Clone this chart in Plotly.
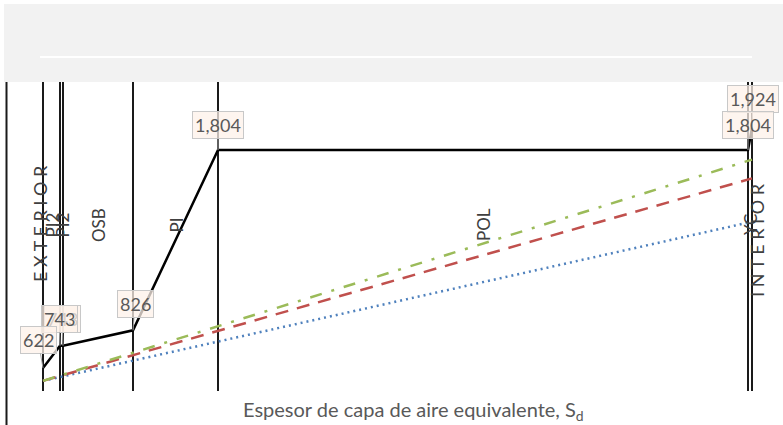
import plotly.graph_objects as go

# Layer boundaries (equivalent air layer thickness, Sd, cumulative)
boundaries = [0.0, 0.17, 0.20, 0.90, 1.75, 7.05, 7.09]
layer_names = ["PI2", "PI2", "OSB", "PI", "POL", "YC"]
# Saturation pressure at each interface
p_sat = [622, 743, 743, 826, 1804, 1804, 1924]
# Vapour pressure lines (exterior -> interior)
vap_x = [0.0, 7.09]
vap_green = [552, 1752]
vap_red = [552, 1650]
vap_blue = [552, 1415]

Y0, Y1 = 497, 2173
X0, X1 = -0.43, 7.40

fig = go.Figure()

for b in boundaries:
    fig.add_trace(go.Scatter(x=[b, b], y=[Y0, Y1], mode="lines",
                             line=dict(color="#1a1a1a", width=2), hoverinfo="skip", showlegend=False))

fig.add_trace(go.Scatter(x=vap_x, y=vap_blue, mode="lines",
                         line=dict(color="#4f81bd", width=2.5, dash="2px,4px"), showlegend=False))
fig.add_trace(go.Scatter(x=vap_x, y=vap_red, mode="lines",
                         line=dict(color="#c0504d", width=2.5, dash="13px,9px"), showlegend=False))
fig.add_trace(go.Scatter(x=vap_x, y=vap_green, mode="lines",
                         line=dict(color="#9bbb59", width=2.5, dash="12px,10px,3px,10px"), showlegend=False))
fig.add_trace(go.Scatter(x=boundaries, y=p_sat, mode="lines",
                         line=dict(color="black", width=2.5), showlegend=False))

FONT = "Lato"
ann = []
offsets = [(-5, -28), (-1, -27), (-1, -27), (2, -26), (0, -25), (0, -25), (1, -29)]
for i in reversed(range(len(boundaries))):
    ax, ay = offsets[i]
    ann.append(dict(x=boundaries[i], y=p_sat[i], xref="x", yref="y", text=f"{p_sat[i]:,}",
                    showarrow=True, arrowhead=0, arrowwidth=1, arrowcolor="#a6a6a6",
                    ax=ax, ay=ay, font=dict(family=FONT, size=18, color="#595959"),
                    bgcolor="rgba(253,242,233,0.75)", bordercolor="#c8c8c8", borderwidth=1, borderpad=2))

for i, name in enumerate(layer_names):
    ann.append(dict(x=(boundaries[i] + boundaries[i + 1]) / 2, y=(391 - 225) / 309, xref="x", yref="paper",
                    text=name, showarrow=False, textangle=-90,
                    font=dict(family=FONT, size=17, color="#404040")))

sp = " "
ann.append(dict(x=27 / 783, y=(391 - 224) / 309, xref="paper", yref="paper",
                text=sp.join("EXTERIOR"), showarrow=False, textangle=-90,
                font=dict(family=FONT, size=18, color="#404040")))
ann.append(dict(x=770 / 783, y=(391 - 240) / 309, xref="paper", yref="paper",
                text=sp.join("INTERIOR"), showarrow=False, textangle=-90,
                font=dict(family=FONT, size=18, color="#404040")))
ann.append(dict(x=413 / 783, y=(391 - 411) / 309, xref="paper", yref="paper", yanchor="middle",
                text="Espesor de capa de aire equivalente, S<sub>d</sub>", showarrow=False,
                font=dict(family=FONT, size=20, color="#595959")))

shapes = [
    dict(type="rect", xref="paper", yref="paper", x0=4 / 783, x1=1.0, y0=1.0, y1=1 + 78 / 309,
         fillcolor="#f2f2f2", line=dict(width=0), layer="below"),
    dict(type="line", xref="paper", yref="paper", x0=40 / 783, x1=752 / 783,
         y0=1 + 25 / 309, y1=1 + 25 / 309, line=dict(color="white", width=2)),
    dict(type="line", xref="paper", yref="paper", x0=6.5 / 783, x1=6.5 / 783,
         y0=-34 / 309, y1=1.0, line=dict(color="#1a1a1a", width=2)),
]

fig.update_layout(
    width=783, height=425, margin=dict(l=0, r=0, t=82, b=34),
    paper_bgcolor="white", plot_bgcolor="white",
    xaxis=dict(range=[X0, X1], visible=False, fixedrange=True),
    yaxis=dict(range=[Y0, Y1], visible=False, fixedrange=True),
    annotations=ann, shapes=shapes, showlegend=False,
)

fig.write_html("out.html", config={"displayModeBar": False},
               post_script="document.body.style.margin='0px';document.body.style.padding='0px';")
